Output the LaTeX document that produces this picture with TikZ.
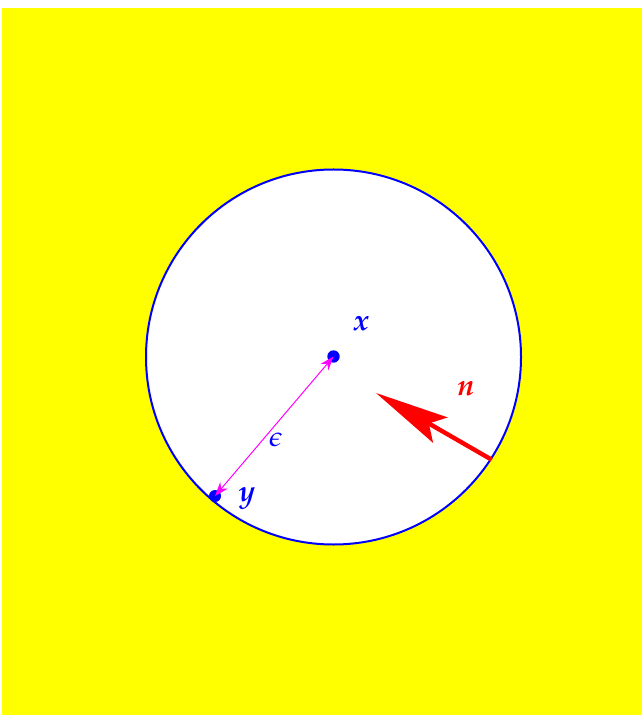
\documentclass[tikz,border=0pt]{standalone}
\usepackage{mathpazo}
\usetikzlibrary{arrows.meta}
\definecolor{yel}{RGB}{255,255,0}
\definecolor{mag}{RGB}{255,0,255}
\definecolor{blu}{RGB}{0,0,255}
\definecolor{rd}{RGB}{255,0,0}
\tikzset{
  lbl/.style={font=\fontsize{15}{18}\selectfont\boldmath, inner sep=0pt},
}
\begin{document}
\begin{tikzpicture}[x=0.5pt,y=-0.5pt]
\path[use as bounding box, fill=white] (0,0) rectangle (642,715);
\fill[yel] (2,8) rectangle (642,715);
\node[circle, draw=blu, fill=white, line width=1pt, minimum size=187.5pt, inner sep=0pt] (C) at (333.5,357) {};
\coordinate (X) at (333.5,356.5);
\coordinate (Y) at (215,496);
\coordinate (N0) at (C.-33.5);
\coordinate (NT) at (376,393);
\fill[blu] (X) circle (3.1pt);
\fill[blu] (Y) circle (3pt);
\draw[mag, line width=0.5pt, {Stealth[length=7pt,width=5pt]}-{Stealth[length=7pt,width=5pt]}] (Y) -- (X);
\draw[rd, line width=2.2pt, -{Stealth[length=37pt,width=14.5pt,inset=6.5pt]}] (N0) -- (NT);
\node[lbl, text=blu] (lx) at (361,324) {$x$};
\node[lbl, text=blu] (ly) at (247,499) {$y$};
\node[lbl, text=blu, font=\fontsize{14}{17}\selectfont] (le) at (276,440) {$\epsilon$};
\node[lbl, text=rd] (ln) at (466,389) {$n$};
\end{tikzpicture}
\end{document}
